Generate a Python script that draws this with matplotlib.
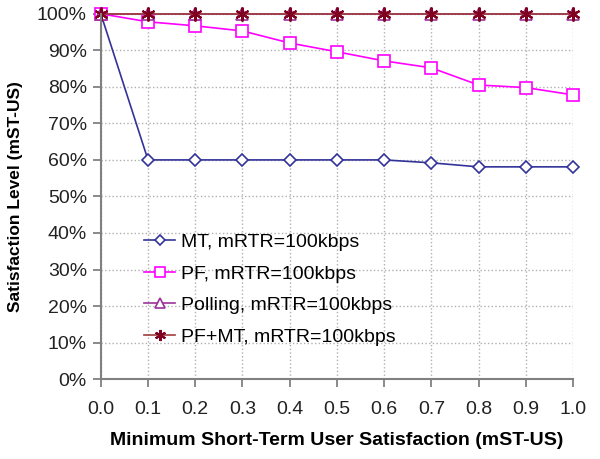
import matplotlib
matplotlib.use('Agg')
import matplotlib.pyplot as plt
from matplotlib.ticker import PercentFormatter

plt.rcParams['font.family'] = ['Liberation Sans', 'DejaVu Sans']

# DATA
mst_us = [0.0, 0.1, 0.2, 0.3, 0.4, 0.5, 0.6, 0.7, 0.8, 0.9, 1.0]
mt = [100, 60, 60, 60, 60, 60, 60, 59.2, 58.1, 58.1, 58.1]
pf = [100, 97.8, 96.7, 95.3, 92, 89.6, 87.1, 85.2, 80.5, 79.8, 77.8]
polling = [100, 100, 100, 100, 100, 100, 100, 100, 100, 100, 100]
pf_mt = [100, 100, 100, 100, 100, 100, 100, 100, 100, 100, 100]
labels = ['MT, mRTR=100kbps', 'PF, mRTR=100kbps',
          'Polling, mRTR=100kbps', 'PF+MT, mRTR=100kbps']

fig = plt.figure(figsize=(6, 4.59), dpi=100)
ax = fig.add_axes([0.168, 0.174, 0.787, 0.796])

ax.plot(mst_us, mt, color='#33339a', marker='D', markersize=6.5,
        markerfacecolor='white', markeredgewidth=1.2, linewidth=1.2,
        label=labels[0], clip_on=False)
ax.plot(mst_us, pf, color='#ff00ff', marker='s', markersize=9,
        markerfacecolor='white', markeredgewidth=1.2, linewidth=1.2,
        label=labels[1], clip_on=False)
ax.plot(mst_us, polling, color='#993399', marker='^', markersize=9,
        markerfacecolor='white', markeredgewidth=1.2, linewidth=1.2,
        label=labels[2], clip_on=False)
ax.plot(mst_us, pf_mt, color='#a03c3c', marker=(6, 2, 0), markersize=10,
        markeredgecolor='#800020', markeredgewidth=1.5, linewidth=1.2,
        label=labels[3], clip_on=False)

ax.set_xlim(0, 1.0)
ax.set_ylim(0, 100)
ax.set_xticks(mst_us)
ax.set_xticklabels(['%.1f' % v for v in mst_us])
ax.set_yticks(range(0, 101, 10))
ax.yaxis.set_major_formatter(PercentFormatter(decimals=0))
ax.grid(True, linestyle=':', color='#b0b0b0', linewidth=1)
ax.tick_params(direction='out', length=6, width=1.2, color='#777777',
               labelsize=14, labelcolor='#222222', pad=4)
ax.tick_params(axis='x', pad=10)

for s in ['top', 'right']:
    ax.spines[s].set_visible(False)
for s in ['left', 'bottom']:
    ax.spines[s].set_color('#808080')
    ax.spines[s].set_linewidth(1.5)

ax.set_xlabel('Minimum Short-Term User Satisfaction (mST-US)',
              fontsize=14, fontweight='bold', labelpad=10)
ax.set_ylabel('Satisfaction Level (mST-US)', fontsize=12.5, fontweight='bold',
              labelpad=10)

handles, _ = ax.get_legend_handles_labels()
leg = ax.legend(handles, labels, loc='lower left', bbox_to_anchor=(0.075, 0.07),
                frameon=False, fontsize=14, handlelength=1.6, handletextpad=0.3,
                labelspacing=0.72, borderaxespad=0, markerscale=0.8)

fig.savefig('out.png', dpi=100)
